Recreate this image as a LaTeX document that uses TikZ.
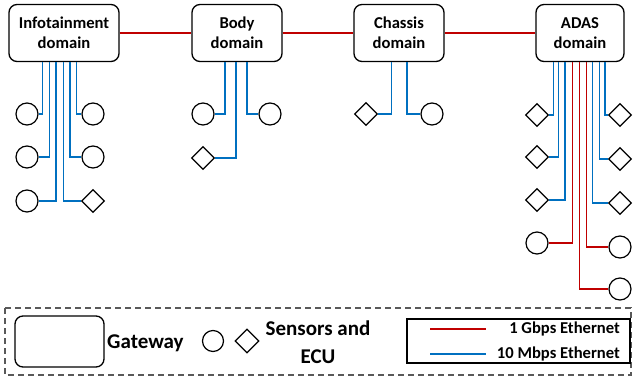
\documentclass[tikz,border=0pt]{standalone}
\usepackage{fontspec}
\setmainfont{Carlito}
\usetikzlibrary{shapes.geometric}
\definecolor{gbred}{HTML}{C00000}
\definecolor{mbblue}{HTML}{0070C0}
\definecolor{dgrey}{HTML}{595959}
\tikzset{
  domainbox/.style={draw, line width=1.3pt, rounded corners=8pt, minimum height=57pt, inner sep=0pt, align=center, font=\fontsize{16.6}{20}\selectfont\bfseries},
  dev/.style={draw, circle, line width=1.2pt, minimum size=22pt, inner sep=0pt},
  ecu/.style={draw, diamond, line width=1.2pt, minimum size=23pt, inner sep=0pt},
  gb/.style={color=gbred, line width=1.4pt},
  mb/.style={color=mbblue, line width=1.4pt},
  bigtxt/.style={font=\fontsize{21}{28}\selectfont\bfseries, inner sep=0pt, align=center},
  smalltxt/.style={font=\fontsize{16.6}{20}\selectfont\bfseries, inner sep=0pt}
}
\begin{document}
\begin{tikzpicture}[x=1pt, y=-1pt]
\useasboundingbox (0,0) rectangle (633,381);
% domain boxes
\node[domainbox, minimum width=110pt] (info) at (64,33) {Infotainment\\domain};
\node[domainbox, minimum width=90pt] (body) at (237,33) {Body\\domain};
\node[domainbox, minimum width=90pt] (chassis) at (399,33) {Chassis\\domain};
\node[domainbox, minimum width=88pt] (adas) at (580,33) {ADAS\\domain};
\draw[gb] (info) -- (body);
\draw[gb] (body) -- (chassis);
\draw[gb] (chassis) -- (adas);
% infotainment devices
\node[dev] (i1) at (27,114) {};
\node[dev] (i2) at (27,157) {};
\node[dev] (i3) at (27,201) {};
\node[dev] (i4) at (93,114) {};
\node[dev] (i5) at (93,157) {};
\node[ecu] (i6) at (93,201) {};
\draw[mb] ([xshift=34.3pt]info.south west) |- (i1);
\draw[mb] ([xshift=41pt]info.south west) |- (i2);
\draw[mb] ([xshift=47.7pt]info.south west) |- (i3);
\draw[mb] ([xshift=55.3pt]info.south west) |- (i6);
\draw[mb] ([xshift=61.7pt]info.south west) |- (i5);
\draw[mb] ([xshift=68.3pt]info.south west) |- (i4);
% body devices
\node[dev] (b1) at (203,114) {};
\node[ecu] (b2) at (203,158) {};
\node[dev] (b3) at (270,114) {};
\draw[mb] ([xshift=33.7pt]body.south west) |- (b1);
\draw[mb] ([xshift=44.7pt]body.south west) |- (b2);
\draw[mb] ([xshift=55.7pt]body.south west) |- (b3);
% chassis devices
\node[ecu] (c1) at (366,114) {};
\node[dev] (c2) at (432,114) {};
\draw[mb] ([xshift=38pt]chassis.south west) |- (c1);
\draw[mb] ([xshift=53.7pt]chassis.south west) |- (c2);
% adas devices
\node[ecu] (a1) at (537,115) {};
\node[ecu] (a2) at (537,157) {};
\node[ecu] (a3) at (537,200) {};
\node[dev] (a4) at (537,243) {};
\node[ecu] (a5) at (620,115) {};
\node[ecu] (a6) at (620,159) {};
\node[ecu] (a7) at (620,203) {};
\node[dev] (a8) at (620,247) {};
\node[dev] (a9) at (620,289) {};
\draw[mb] ([xshift=18.3pt]adas.south west) |- (a1);
\draw[mb] ([xshift=23.3pt]adas.south west) |- (a2);
\draw[mb] ([xshift=29.7pt]adas.south west) |- (a3);
\draw[gb] ([xshift=37.3pt]adas.south west) |- (a4);
\draw[gb] ([xshift=44pt]adas.south west) |- (a9);
\draw[gb] ([xshift=51pt]adas.south west) |- (a8);
\draw[mb] ([xshift=57.3pt]adas.south west) |- (a7);
\draw[mb] ([xshift=64pt]adas.south west) |- (a6);
\draw[mb] ([xshift=69.7pt]adas.south west) |- (a5);
% legend
\draw[dgrey, line width=1.3pt, dash pattern=on 6pt off 4pt] (5,308) rectangle (631,375);
\node[draw, line width=1.3pt, rounded corners=8pt, minimum width=89pt, minimum height=51pt, inner sep=0pt] (lgw) at (59.5,341.5) {};
\node[bigtxt, anchor=west] (lgwt) at (107,343) {Gateway};
\node[dev, minimum size=21pt] (ldev) at (213,341) {};
\node[ecu, minimum size=24pt] (lecu) at (247,341) {};
\node[bigtxt] (lsens) at (318,342) {Sensors and\\ECU};
\node[draw, line width=1.3pt, minimum width=223pt, minimum height=44pt, inner sep=0pt] (lbox) at (518.5,341) {};
\coordinate (r1) at (430,329);
\coordinate (r2) at (486,329);
\coordinate (b1l) at (430,354);
\coordinate (b2l) at (486,354);
\draw[gb] (r1) -- (r2);
\draw[mb] (b1l) -- (b2l);
\node[smalltxt, anchor=east] (lt1) at (620,329) {1 Gbps Ethernet};
\node[smalltxt, anchor=east] (lt2) at (620,354) {10 Mbps Ethernet};
\end{tikzpicture}
\end{document}
